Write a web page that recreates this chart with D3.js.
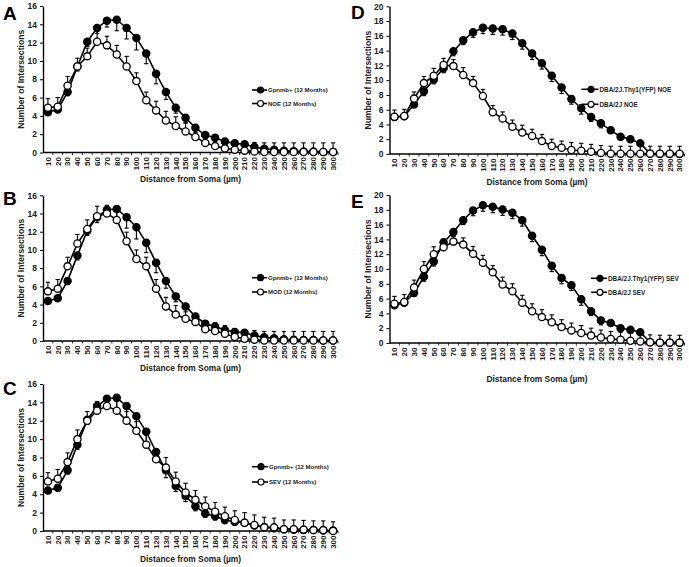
<!DOCTYPE html>
<html>
<head>
<meta charset="utf-8">
<script src="https://cdn.jsdelivr.net/npm/d3@7/dist/d3.min.js"></script>
<style>
  html, body { margin: 0; padding: 0; background: #fff; }
  svg { display: block; font-family: "Liberation Sans", Arial, sans-serif; }
</style>
</head>
<body>
<svg id="chart" width="689" height="567"></svg>
<script>
// ---------------- DATA ----------------
const distances = [10,20,30,40,50,60,70,80,90,100,110,120,130,140,150,160,170,180,190,200,210,220,230,240,250,260,270,280,290,300];

// Gpnmb+ (12 Months) — shared by panels A, B, C
const gpnmbMean = [4.4,4.7,6.6,9.4,12.1,13.6,14.4,14.5,13.6,12.5,10.8,8.6,6.6,4.9,3.8,2.7,1.9,1.6,1.2,1.0,0.9,0.6,0.4,0.3,0.2,0.15,0.1,0.1,0.05,0.05];
const gpnmbErr  = [0.3,0.3,0.4,0.5,0.5,0.6,0.7,1.2,1.2,1.3,1.1,1.1,0.8,0.6,0.6,0.5,0.4,0.4,0.4,0.4,0.3,0.3,0.3,0.2,0.2,0.2,0.1,0.1,0.1,0.1];

// NOE (12 Months) — panel A
const noeMean = [4.9,5.0,7.3,9.4,10.5,12.1,11.7,10.7,9.4,7.8,5.7,4.6,3.5,2.9,2.3,1.7,1.05,0.7,0.45,0.3,0.2,0.1,0.05,0.05,0.05,0.05,0.05,0.05,0.05,0.05];
const noeErr  = [1.0,1.0,1.0,0.9,0.9,1.2,1.0,1.0,1.1,0.9,0.9,1.0,1.0,1.0,1.0,0.9,0.9,0.9,0.9,0.9,0.9,1.0,1.0,1.0,1.0,1.0,1.0,1.0,1.0,1.0];

// MOD (12 Months) — panel B
const modMean = [5.45,5.75,8.2,10.7,12.3,13.7,14.0,13.3,10.95,9.0,8.2,5.75,3.8,2.9,2.45,2.1,1.3,1.1,0.8,0.45,0.25,0.15,0.05,0.05,0.05,0.05,0.05,0.05,0.05,0.05];
const modErr  = [1.0,1.0,1.0,1.0,1.0,1.1,0.9,0.9,1.0,1.0,1.0,1.0,1.0,1.0,1.0,0.9,0.9,0.9,0.9,0.9,0.9,1.0,1.0,1.0,1.0,1.0,1.0,1.0,1.0,1.0];

// SEV (12 Months) — panel C
const sevMean = [5.4,5.7,7.5,10.0,12.0,13.1,13.6,13.1,12.0,10.9,9.4,7.8,6.9,5.4,4.2,3.4,2.7,2.1,1.6,1.2,0.9,0.65,0.4,0.4,0.2,0.2,0.15,0.1,0.1,0.0];
const sevErr  = [0.95,1.0,1.0,1.0,1.0,1.0,1.0,1.0,1.0,1.0,1.1,1.1,1.1,1.0,1.0,1.0,1.0,1.0,1.0,1.0,1.1,1.1,1.1,1.0,1.0,1.0,1.0,1.0,1.0,1.0];

// DBA/2J.Thy1(YFP) NOE — panel D
const thyNoeMean = [5.0,5.1,6.7,8.5,10.1,11.6,13.9,15.4,16.5,17.1,17.0,16.9,16.3,15.0,13.6,12.3,10.6,9.0,7.45,6.2,5.0,4.15,3.2,2.35,2.0,1.45,0.05,0.0,0.0,0.0];
const thyNoeErr  = [0.3,0.3,0.4,0.6,0.6,0.6,0.6,0.6,0.7,0.8,0.8,0.8,0.8,0.8,0.8,0.8,0.8,0.8,0.7,0.8,0.6,0.6,0.4,0.4,0.4,0.4,0.0,0.0,0.0,0.0];

// DBA/2J NOE — panel D
const dbaNoeMean = [5.05,5.15,7.5,9.6,10.6,12.05,11.9,10.7,9.6,7.85,5.65,4.8,3.7,2.9,2.45,1.75,1.1,0.85,0.55,0.45,0.3,0.15,0.05,0.05,0.05,0.05,0.05,0.05,0.05,0.05];
const dbaNoeErr  = [0.9,0.9,0.9,0.9,1.0,0.9,0.9,1.0,0.9,0.9,0.9,0.9,0.9,1.0,0.9,0.9,0.9,0.9,1.0,1.0,1.0,1.0,1.0,1.0,1.0,1.0,1.0,1.0,1.0,1.0];

// DBA/2J.Thy1(YFP) SEV — panel E
const thySevMean = [5.1,5.45,6.75,8.95,11.0,13.6,15.0,16.6,17.9,18.6,18.4,18.05,17.6,16.6,14.5,12.6,10.45,8.8,7.8,5.9,4.3,3.05,2.7,2.0,1.8,1.45,0.1,0.05,0.05,0.05];
const thySevErr  = [0.3,0.3,0.4,0.6,0.6,0.6,0.6,0.6,0.7,0.8,0.8,0.8,0.8,0.8,0.8,0.8,0.8,0.8,0.7,0.8,0.6,0.6,0.4,0.4,0.4,0.4,0.0,0.0,0.0,0.0];

// DBA/2J SEV — panel E
const dbaSevMean = [5.3,5.55,7.5,10.0,12.0,12.95,13.7,13.3,12.05,10.85,9.55,7.9,7.0,5.45,4.3,3.5,2.8,2.15,1.7,1.35,1.0,0.75,0.55,0.45,0.3,0.2,0.1,0.05,0.05,0.05];
const dbaSevErr  = [1.0,1.0,1.0,1.0,1.0,0.8,0.8,0.9,1.0,1.0,0.9,1.0,1.0,1.0,1.0,1.0,1.0,1.0,1.0,1.0,1.0,1.0,1.0,1.0,1.0,1.0,1.0,1.0,1.0,1.0];

const yTicksAC = [0,2,4,6,8,10,12,14,16];
const yTicksDE = [0,2,4,6,8,10,12,14,16,18,20];

const xTitle = "Distance from Soma (µm)";
const yTitle = "Number of Intersections";

// ---------------- LAYOUT ----------------
const panels = [
  { letter:"A", x0:43, x1:338, top:6, bottom:152.5, ymax:16, yTicks:yTicksAC,
    filled:{name:"Gpnmb+ (12 Months)", mean:gpnmbMean, err:gpnmbErr},
    open:{name:"NOE (12 Months)", mean:noeMean, err:noeErr},
    leg:{x:252, y:90, dy:13.5, len:15, fs:6}, letterPos:[3,20], yTitleX:21, xTitleY:182 },
  { letter:"B", x0:43, x1:338, top:195.3, bottom:341, ymax:16, yTicks:yTicksAC,
    filled:{name:"Gpnmb+ (12 Months)", mean:gpnmbMean, err:gpnmbErr},
    open:{name:"MOD (12 Months)", mean:modMean, err:modErr},
    leg:{x:252, y:277.7, dy:14.3, len:15, fs:6}, letterPos:[3,205], yTitleX:21, xTitleY:371 },
  { letter:"C", x0:43, x1:338, top:384, bottom:531, ymax:16, yTicks:yTicksAC,
    filled:{name:"Gpnmb+ (12 Months)", mean:gpnmbMean, err:gpnmbErr},
    open:{name:"SEV (12 Months)", mean:sevMean, err:sevErr},
    leg:{x:252, y:466.7, dy:15.3, len:16, fs:6}, letterPos:[3,395], yTitleX:21, xTitleY:562 },
  { letter:"D", x0:389.5, x1:684.5, top:6.3, bottom:154, ymax:20, yTicks:yTicksDE,
    filled:{name:"DBA/2J.Thy1(YFP) NOE", mean:thyNoeMean, err:thyNoeErr},
    open:{name:"DBA/2J NOE", mean:dbaNoeMean, err:dbaNoeErr},
    leg:{x:581.5, y:89.3, dy:15, len:17, fs:6.4}, letterPos:[351,19], yTitleX:368, xTitleY:184.5 },
  { letter:"E", x0:389.5, x1:684.5, top:195, bottom:343, ymax:20, yTicks:yTicksDE,
    filled:{name:"DBA/2J.Thy1(YFP) SEV", mean:thySevMean, err:thySevErr},
    open:{name:"DBA/2J SEV", mean:dbaSevMean, err:dbaSevErr},
    leg:{x:591, y:278.3, dy:14, len:16, fs:6.4}, letterPos:[351,208], yTitleX:368, xTitleY:382 }
];

const svg = d3.select("#chart");
const R = 3.6, CAP = 2.2;

panels.forEach(p => {
  const g = svg.append("g");
  const x = d3.scaleBand().domain(distances).range([p.x0, p.x1]).padding(0);
  const cx = d => x(d) + x.bandwidth() / 2;
  const y = d3.scaleLinear().domain([0, p.ymax]).range([p.bottom, p.top]);

  // y axis
  const ya = g.append("g").attr("transform", `translate(${p.x0},0)`)
    .call(d3.axisLeft(y).tickValues(p.yTicks).tickSize(3).tickPadding(3).tickSizeOuter(0));
  ya.select(".domain").attr("stroke", "#000").attr("stroke-width", 1.4);
  ya.selectAll(".tick line").attr("stroke", "#000").attr("stroke-width", 1);
  ya.selectAll(".tick text").attr("font-size", 8.5).attr("font-weight", "bold").attr("fill", "#222");

  // x axis
  const xa = g.append("g").attr("transform", `translate(0,${p.bottom})`);
  xa.append("line").attr("x1", p.x0).attr("x2", p.x1).attr("stroke", "#000").attr("stroke-width", 1.4);
  xa.selectAll("line.t").data(distances).enter().append("line").attr("class","t")
    .attr("x1", d => x(d) + x.bandwidth()).attr("x2", d => x(d) + x.bandwidth())
    .attr("y1", 0).attr("y2", 2.5).attr("stroke", "#000").attr("stroke-width", 0.8);
  xa.selectAll("text").data(distances).enter().append("text")
    .attr("transform", d => `translate(${cx(d)},4.5) rotate(-90)`)
    .attr("text-anchor", "end").attr("dy", "0.35em")
    .attr("font-size", 8).attr("font-weight", "bold").attr("fill", "#222")
    .text(d => d);

  // titles
  g.append("text").attr("x", (p.x0 + p.x1) / 2).attr("y", p.xTitleY)
    .attr("text-anchor", "middle").attr("font-size", 8.4).attr("font-weight", "bold").attr("fill", "#222")
    .text(xTitle);
  g.append("text").attr("transform", `translate(${p.yTitleX},${(p.top + p.bottom) / 2}) rotate(-90)`)
    .attr("text-anchor", "middle").attr("dy", "0.35em").attr("font-size", 8.6).attr("font-weight", "bold").attr("fill", "#222")
    .text(yTitle);
  g.append("text").attr("x", p.letterPos[0]).attr("y", p.letterPos[1])
    .attr("font-size", 19).attr("font-weight", "bold").attr("fill", "#000").text(p.letter);

  const line = d3.line().x((d, i) => cx(distances[i])).y(d => y(d));

  function drawSeries(s, filled) {
    const sg = g.append("g");
    // error bars: filled series downward, open series upward
    distances.forEach((d, i) => {
      if (s.err[i] <= 0) return;
      const yv = y(s.mean[i]);
      const ye = filled ? y(Math.max(0, s.mean[i] - s.err[i])) : y(s.mean[i] + s.err[i]);
      sg.append("line").attr("x1", cx(d)).attr("x2", cx(d)).attr("y1", yv).attr("y2", ye)
        .attr("stroke", "#000").attr("stroke-width", 1.1);
      sg.append("line").attr("x1", cx(d) - CAP).attr("x2", cx(d) + CAP).attr("y1", ye).attr("y2", ye)
        .attr("stroke", "#000").attr("stroke-width", 1.1);
    });
    sg.append("path").datum(s.mean).attr("d", line).attr("fill", "none")
      .attr("stroke", "#000").attr("stroke-width", 1.6);
    sg.selectAll("circle").data(s.mean).enter().append("circle")
      .attr("cx", (d, i) => cx(distances[i])).attr("cy", d => y(d)).attr("r", R)
      .attr("fill", filled ? "#000" : "#fff").attr("stroke", "#000").attr("stroke-width", 1.3);
  }
  drawSeries(p.filled, true);
  drawSeries(p.open, false);

  // legend
  [[p.filled, true], [p.open, false]].forEach(([s, filled], k) => {
    const ly = p.leg.y + k * p.leg.dy;
    g.append("line").attr("x1", p.leg.x).attr("x2", p.leg.x + p.leg.len).attr("y1", ly).attr("y2", ly)
      .attr("stroke", "#000").attr("stroke-width", 1.6);
    g.append("circle").attr("cx", p.leg.x + p.leg.len / 2 + 1).attr("cy", ly).attr("r", 3)
      .attr("fill", filled ? "#000" : "#fff").attr("stroke", "#000").attr("stroke-width", 1.2);
    g.append("text").attr("x", p.leg.x + p.leg.len + 1).attr("y", ly).attr("dy", "0.35em")
      .attr("font-size", p.leg.fs).attr("font-weight", "bold").attr("fill", "#222").text(s.name);
  });
});
</script>
</body>
</html>
